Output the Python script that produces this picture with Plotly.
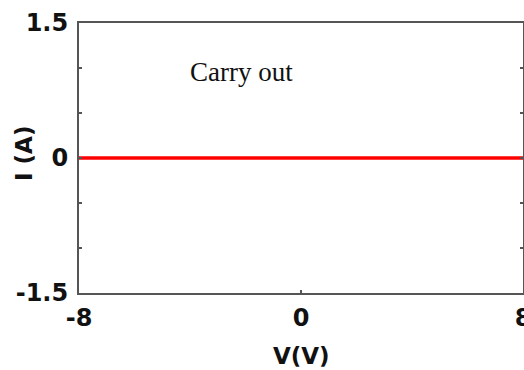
import plotly.graph_objects as go

# Measured I-V sweep of the carry-out node
voltage = [-8, -4, 0, 4, 8]
current = [0, 0, 0, 0, 0]

# Axis ticks
x_tickvals = [-8, 0, 8]
x_ticktext = ["-8", "0", "8"]
y_tickvals = [-1.5, -1.0, -0.5, 0, 0.5, 1.0, 1.5]
y_ticktext = ["-1.5", "", "", "0", "", "", "1.5"]

tick_font = dict(family="DejaVu Sans", size=24, color="#111111", weight="bold")
title_font = dict(family="DejaVu Sans", size=23, color="#111111")
axis_color = "#555555"

fig = go.Figure()
fig.add_trace(go.Scatter(
    x=voltage, y=current, mode="lines",
    line=dict(color="#ff0000", width=3.5),
    showlegend=False, hoverinfo="skip",
))

fig.update_layout(
    width=524, height=370,
    margin=dict(l=79, r=1, t=23, b=77, autoexpand=False),
    paper_bgcolor="white", plot_bgcolor="white",
    xaxis=dict(
        range=[-8, 8], tickvals=x_tickvals, ticktext=x_ticktext,
        ticks="inside", ticklen=3, tickwidth=1.5, tickcolor=axis_color,
        showline=True, linecolor=axis_color, linewidth=2, mirror=True,
        showgrid=False, zeroline=False, automargin=False,
        tickfont=tick_font, ticklabelstandoff=2, ticklabeloverflow="allow",
    ),
    yaxis=dict(
        range=[-1.5, 1.5], tickvals=y_tickvals, ticktext=y_ticktext,
        ticks="inside", ticklen=3, tickwidth=1.5, tickcolor=axis_color,
        showline=True, linecolor=axis_color, linewidth=2, mirror="ticks",
        showgrid=False, zeroline=False, automargin=False,
        tickfont=tick_font, ticklabelstandoff=4, ticklabeloverflow="allow",
    ),
    annotations=[
        dict(text="Carry out", x=-2.16, y=0.96, xref="x", yref="y",
             showarrow=False, xanchor="center", yanchor="middle",
             font=dict(family="Liberation Serif", size=27, color="#111111")),
        dict(text="<b>V(V)</b>", x=0.5, y=0, xref="paper", yref="paper",
             yshift=-63, showarrow=False, xanchor="center", yanchor="middle",
             font=title_font),
        dict(text="<b>I (A)</b>", x=0, y=0.5, xref="paper", yref="paper",
             xshift=-55, yshift=4, showarrow=False, textangle=-90,
             xanchor="center", yanchor="middle", font=title_font),
    ],
)

fig.write_html("out.html")
